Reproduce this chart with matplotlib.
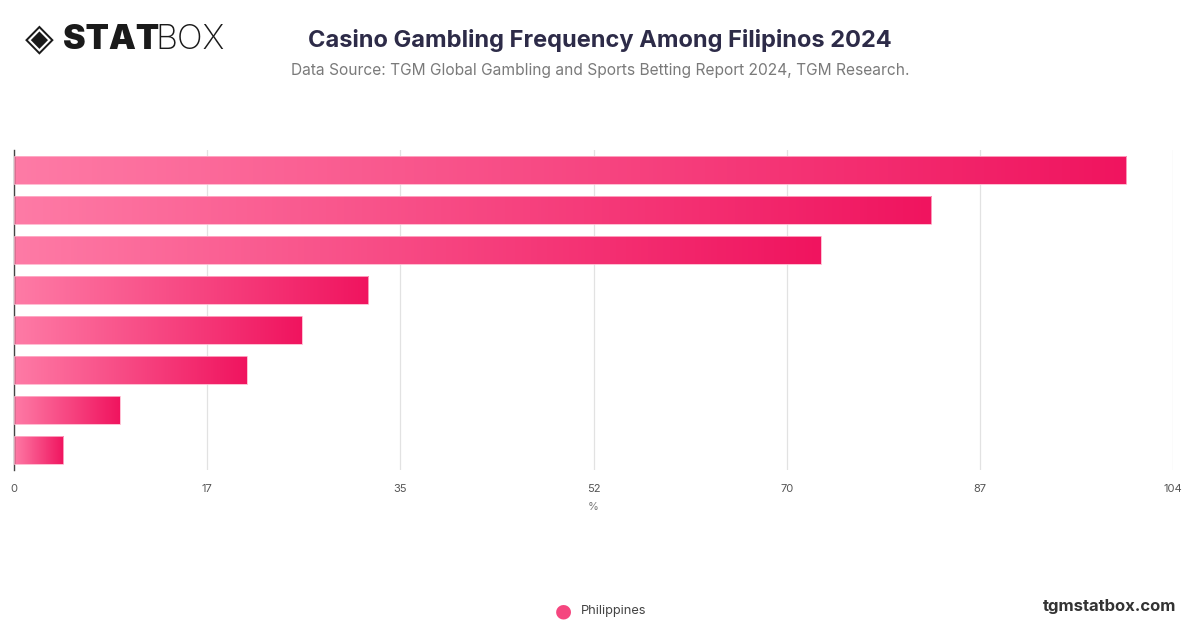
import numpy as np
import matplotlib.pyplot as plt
from matplotlib.colors import LinearSegmentedColormap

plt.rcParams['font.family'] = ['Inter', 'DejaVu Sans']

# Data (top to bottom), % of respondents
categories = ['Cat 1', 'Cat 2', 'Cat 3', 'Cat 4', 'Cat 5', 'Cat 6', 'Cat 7', 'Cat 8']
values = [99.8, 82.3, 72.4, 31.8, 25.8, 20.9, 9.5, 4.4]
series_name = 'Philippines'
x_ticks = [0, 104 / 6, 2 * 104 / 6, 52, 4 * 104 / 6, 5 * 104 / 6, 104]
x_tick_labels = ['0', '17', '35', '52', '70', '87', '104']

title = 'Casino Gambling Frequency Among Filipinos 2024'
subtitle = 'Data Source: TGM Global Gambling and Sports Betting Report 2024, TGM Research.'

cmap = LinearSegmentedColormap.from_list('pinkgrad', ['#fe7ba6', '#f0145f'])

fig = plt.figure(figsize=(12, 6.28), dpi=100)
ax = fig.add_axes([14 / 1200, 1 - 470 / 628, (1173 - 14) / 1200, 320 / 628])

y = np.arange(len(values))
bars = ax.barh(y, values, height=0.7, facecolor='none', edgecolor='#ffb3cb', linewidth=0.6, zorder=3)
grad = np.linspace(0, 1, 256).reshape(1, -1)
for b in bars:
    x0, y0 = b.get_x(), b.get_y()
    im = ax.imshow(grad, cmap=cmap, aspect='auto', zorder=2,
                   extent=[x0, x0 + b.get_width(), y0, y0 + b.get_height()])
    im.set_clip_path(b)

ax.set_xlim(0, 104)
ax.set_ylim(len(values) - 0.5, -0.5)
ax.set_xticks(x_ticks)
ax.set_xticklabels(x_tick_labels, fontsize=8, color='#555555')
ax.set_yticks([])
ax.tick_params(axis='x', length=0, pad=10)
ax.grid(axis='x', color='#e2e2e2', linewidth=0.9, zorder=0)
ax.set_axisbelow(True)
for s in ['top', 'right', 'bottom']:
    ax.spines[s].set_visible(False)
ax.spines['left'].set_color('#444444')
ax.spines['left'].set_linewidth(1.0)
ax.set_xlabel('%', fontsize=8, color='#777777', labelpad=6)

fig.text(0.5, 1 - 40 / 628, title, ha='center', va='center', fontsize=17,
         fontweight='bold', color='#2d2b48')
fig.text(0.5, 1 - 71 / 628, subtitle, ha='center', va='center', fontsize=11.2, color='#7a7a7a')

# logo
fig.text(25 / 1200, 1 - 40 / 628, '◈', ha='left', va='center', fontsize=27, color='#1a1a1a',
         family='DejaVu Sans')
fig.text(63 / 1200, 1 - 40 / 628, 'STAT', ha='left', va='center', fontsize=24.5,
         fontweight='black', color='#1a1a1a')
fig.text(155 / 1200, 1 - 40 / 628, 'BOX', ha='left', va='center', fontsize=24.5,
         fontweight='light', color='#1a1a1a')

# legend
fig.text(563 / 1200, 1 - 611 / 628, '●', ha='center', va='center', fontsize=14, color='#f5467f',
         family='DejaVu Sans')
fig.text(581 / 1200, 1 - 611 / 628, series_name, ha='left', va='center', fontsize=9.2, color='#444444')

fig.text(1176 / 1200, 1 - 606 / 628, 'tgmstatbox.com', ha='right', va='center', fontsize=12,
         fontweight='bold', color='#333333')

fig.savefig('out.png', dpi=100)
